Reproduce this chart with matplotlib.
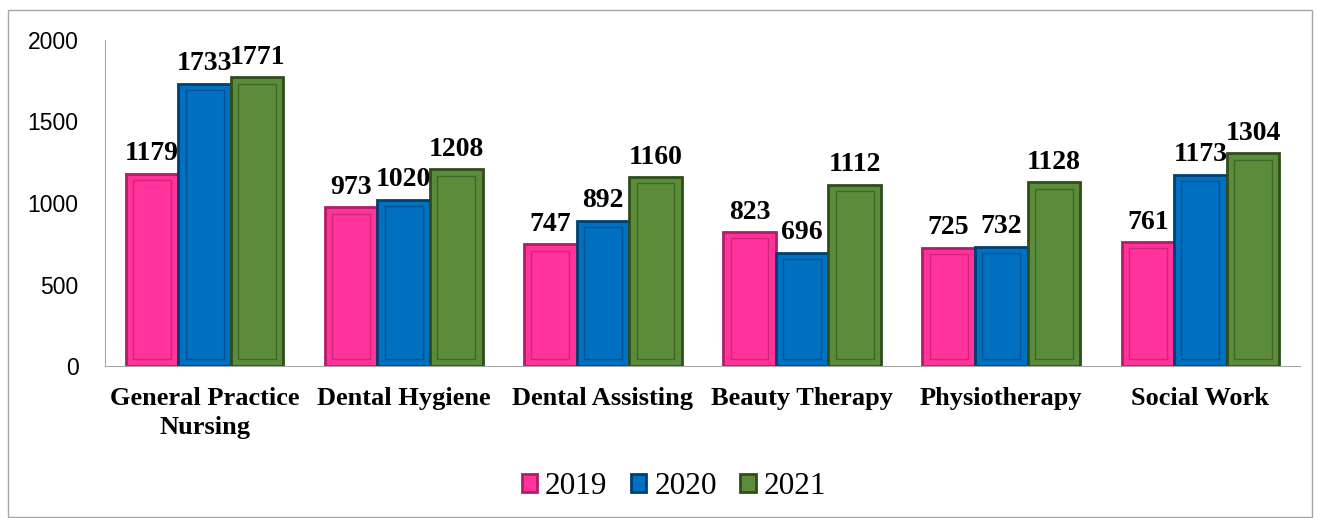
import matplotlib.pyplot as plt
import numpy as np
from matplotlib.patches import Rectangle

categories = ['General Practice\nNursing', 'Dental Hygiene', 'Dental Assisting',
              'Beauty Therapy', 'Physiotherapy', 'Social Work']
years = ['2019', '2020', '2021']
v2019 = [1179, 973, 747, 823, 725, 761]
v2020 = [1733, 1020, 892, 696, 732, 1173]
v2021 = [1771, 1208, 1160, 1112, 1128, 1304]

colors = ['#FF3399', '#0070C0', '#5B8C3A']
edges = ['#B01E68', '#003F70', '#2F4D1C']

fig = plt.figure(figsize=(13.17, 5.18), dpi=100)
ax = fig.add_axes([105 / 1317, 1 - 366 / 518, 1195 / 1317, 326 / 518])

# chart border
fig.patches.append(Rectangle((8 / 1317, 1 / 518), 1304 / 1317, 507 / 518,
                             transform=fig.transFigure, fill=False,
                             edgecolor='#A6A6A6', linewidth=1))

x = np.arange(len(categories))
w = 0.264
serif = 'Liberation Serif'
for i, (vals, c, e) in enumerate(zip([v2019, v2020, v2021], colors, edges)):
    pos = x + (i - 1) * w
    ax.bar(pos, vals, w, color=c, edgecolor=e, linewidth=2, label=years[i])
    # inner bevel outline
    ax.bar(pos, np.array(vals) - 80, w * 0.72, bottom=40, fill=False,
           edgecolor=e, linewidth=1, alpha=0.6)
    for xp, v in zip(pos, vals):
        ax.text(xp, v + 45, str(v), ha='center', va='bottom',
                fontsize=20, fontweight='bold', family=serif)

ax.set_ylim(0, 2000)
ax.set_xlim(-0.5, len(categories) - 0.5)
ax.set_yticks([0, 500, 1000, 1500, 2000])
ax.tick_params(axis='y', length=0, pad=19, labelsize=16.5)
ax.tick_params(axis='x', length=0, pad=15)
for lbl in ax.get_yticklabels():
    lbl.set_family('Liberation Sans')
ax.set_xticks(x)
ax.set_xticklabels(categories, fontsize=19, fontweight='bold', family=serif,
                   linespacing=1.35)
for s in ['top', 'right']:
    ax.spines[s].set_visible(False)
ax.spines['left'].set_color('#A6A6A6')
ax.spines['bottom'].set_color('#A6A6A6')

ax.legend(loc='center', bbox_to_anchor=(0.476, -0.37), ncol=3, frameon=False,
          prop={'family': serif, 'size': 22.5}, handlelength=0.5, handleheight=0.5,
          columnspacing=0.75, handletextpad=0.25)

fig.savefig('out.png', dpi=100)
